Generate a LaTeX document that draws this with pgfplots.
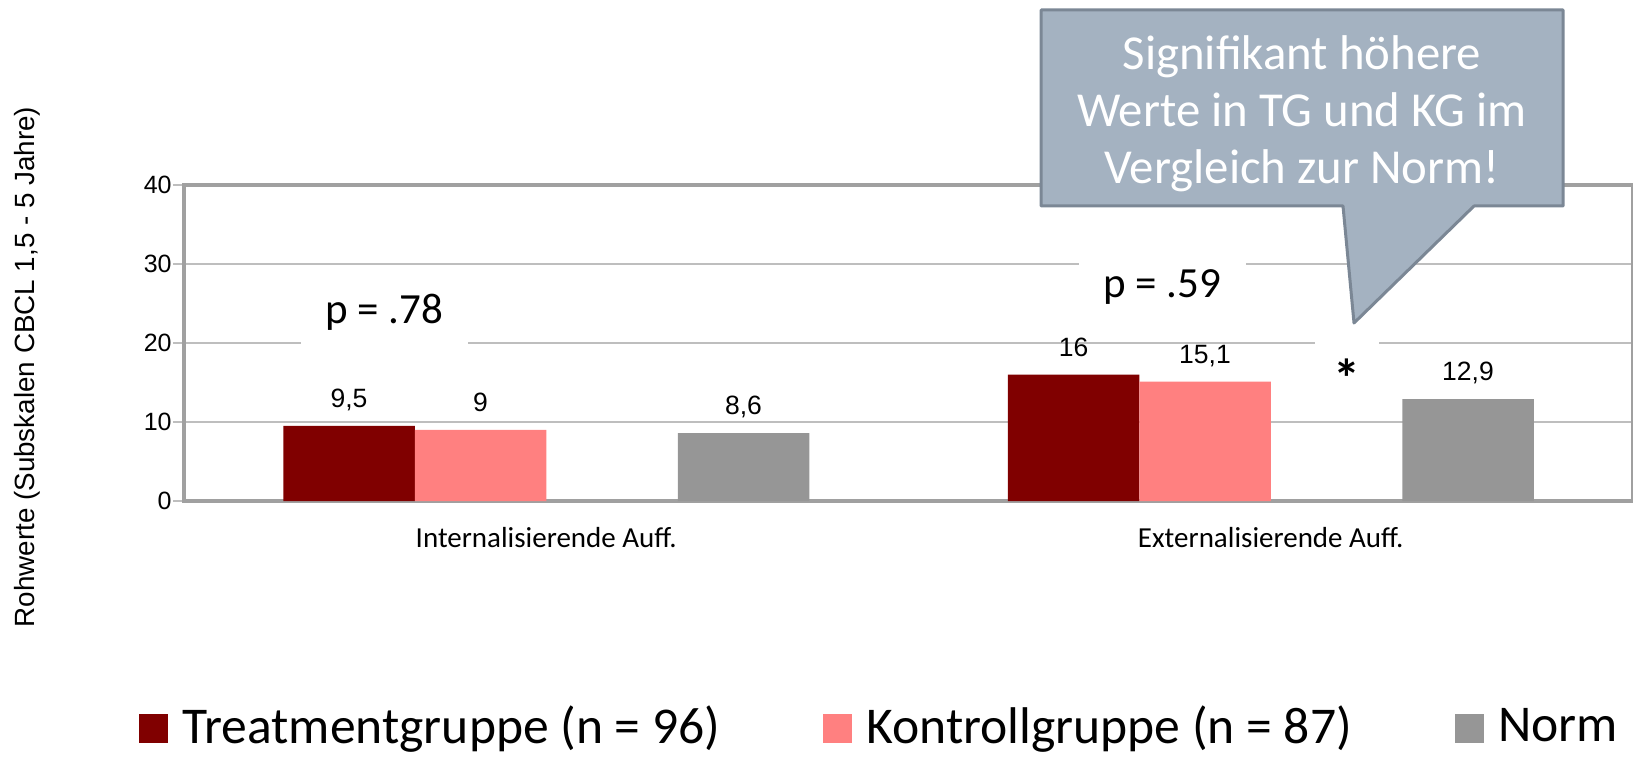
\documentclass[border=0pt]{standalone}
\usepackage{pgfplots}
\pgfplotsset{compat=1.18}
\usepackage{fontspec}
\setmainfont{Liberation Sans}
\newfontfamily\calibri{Carlito}
\definecolor{tgcol}{RGB}{128,0,0}
\definecolor{kgcol}{RGB}{255,128,128}
\definecolor{normcol}{RGB}{150,150,150}
\definecolor{gridcol}{RGB}{190,190,190}
\definecolor{framecol}{RGB}{160,160,160}
\definecolor{callfill}{RGB}{164,178,193}
\definecolor{calldraw}{RGB}{123,135,149}
\begin{document}
\begin{tikzpicture}
\useasboundingbox (0pt,0pt) rectangle (816.5pt,378pt);
\begin{axis}[
  at={(92pt,127.5pt)}, anchor=south west,
  scale only axis, width=724.5pt, height=158pt,
  xmin=-0.5, xmax=1.5, ymin=0, ymax=40,
  ytick={0,10,20,30,40},
  xtick={0,1},
  xticklabels={Internalisierende Auff., Externalisierende Auff.},
  ytick pos=left, xtick pos=bottom,
  ymajorgrids, grid style={gridcol, line width=0.6pt},
  axis line style={framecol, line width=1.8pt},
  tick align=outside,
  major tick length=5.5pt,
  ytick style={gridcol, line width=0.6pt},
  xtick style={draw=none},
  yticklabel style={font=\fontsize{12.5}{15}\selectfont, /pgf/number format/assume math mode=true, inner sep=0pt, xshift=-0.5pt},
  xticklabel style={font=\calibri\fontsize{14.5}{17}\selectfont, anchor=base, inner sep=0pt, text depth=0pt, yshift=-17.5pt},
  ylabel={Rohwerte (Subskalen CBCL 1,5 - 5 Jahre)},
  every axis y label/.style={at={(rel axis cs:-0.108,0.424)}, rotate=90, anchor=center, font=\fontsize{13.9}{16}\selectfont},
  ybar, bar width=65.75pt,
  clip=false,
  legend columns=3,
  legend style={draw=none, fill=none, at={(rel axis cs:-0.0311,-0.7132)}, anchor=west, inner sep=0pt,
    font=\calibri\fontsize{25.8}{30}\selectfont, nodes={inner sep=0pt},
    /tikz/every odd column/.append style={column sep=7pt},
    /tikz/every even column/.append style={column sep=51.5pt},
    /tikz/column 4/.append style={column sep=57.5pt}},
  legend cell align=left,
  legend image code/.code={\fill[#1] (0pt,-8.4pt) rectangle (14.5pt,6.1pt);},
  nodes near coords,
  point meta=explicit symbolic,
  every node near coord/.append style={font=\fontsize{13.25}{15}\selectfont, inner sep=0pt, text depth=0pt, yshift=9pt, text=black},
]
\addplot[fill=tgcol, draw=none, bar shift=-98.625pt] coordinates {(0,9.5) [9,5] (1,16) [16]};
\addplot[fill=kgcol, draw=none, bar shift=-32.875pt] coordinates {(0,9) [9] (1,15.1) [15,1]};
\addplot[fill=normcol, draw=none, bar shift=98.625pt] coordinates {(0,8.6) [8,6] (1,12.9) [12,9]};
\legend{Treatmentgruppe (n = 96), Kontrollgruppe (n = 87), Norm}
\node[fill=white, minimum width=83.5pt, minimum height=38pt, inner sep=0pt, font=\calibri\fontsize{21.5}{25}\selectfont, text height=13.5pt, text depth=0pt] at (axis cs:-0.2233,24.18) {p = .78\hspace{12pt}};
\node[fill=white, minimum width=83.5pt, minimum height=38pt, inner sep=0pt, font=\calibri\fontsize{21.5}{25}\selectfont, text height=13.5pt, text depth=0pt] at (axis cs:0.8506,27.47) {p = .59\hspace{12pt}};
\node[fill=white, minimum width=32pt, minimum height=38pt, inner sep=0pt] at (axis cs:1.1053,16.96) {};
\node[font=\calibri\bfseries\fontsize{27}{30}\selectfont, inner sep=0pt, yshift=-5.5pt] at (axis cs:1.1053,16.96) {*};
\end{axis}
\begin{scope}[x=0.5pt,y=-0.5pt,shift={(0pt,378pt)}]
\filldraw[fill=callfill, draw=calldraw, line width=1.5pt, line join=round] (1041,10) -- (1563,10) -- (1563,206) -- (1474,206) -- (1354,323) -- (1343,206) -- (1041,206) -- cycle;
\node[text=white, align=center, font=\calibri\fontsize{24.4}{28.5}\selectfont, inner sep=0pt] at (1302,114) {Signifikant höhere\\Werte in TG und KG im\\Vergleich zur Norm!};
\end{scope}
\end{tikzpicture}
\end{document}
